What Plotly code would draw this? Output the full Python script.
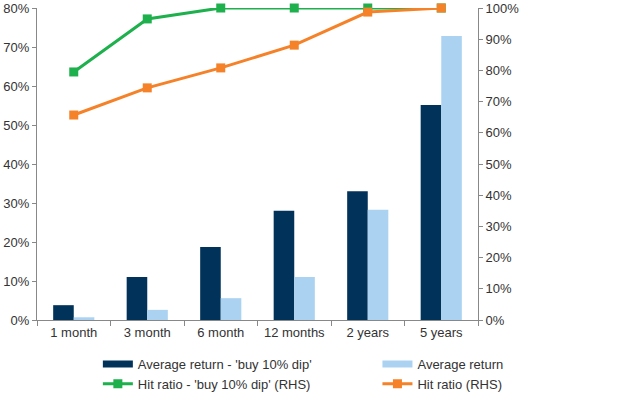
import plotly.graph_objects as go

categories = ["1 month", "3 month", "6 month", "12 months", "2 years", "5 years"]
avg_return_dip = [0.038, 0.11, 0.187, 0.28, 0.33, 0.551]
avg_return = [0.007, 0.026, 0.056, 0.11, 0.283, 0.728]
hit_ratio_dip = [0.795, 0.965, 1.0, 1.0, 1.0, 1.0]
hit_ratio = [0.657, 0.744, 0.808, 0.881, 0.987, 1.0]

left_ticks = [0, 0.1, 0.2, 0.3, 0.4, 0.5, 0.6, 0.7, 0.8]
right_ticks = [0, 0.1, 0.2, 0.3, 0.4, 0.5, 0.6, 0.7, 0.8, 0.9, 1.0]

NAVY = "#01325A"
LIGHT = "#ABD3F1"
GREEN = "#1DB04C"
ORANGE = "#F58228"

fig = go.Figure()
fig.add_trace(go.Bar(x=categories, y=avg_return_dip, name="Average return - 'buy 10% dip'",
                     marker=dict(color=NAVY, line=dict(width=0)), showlegend=False))
fig.add_trace(go.Bar(x=categories, y=avg_return, name="Average return",
                     marker=dict(color=LIGHT, line=dict(width=0)), showlegend=False))
fig.add_trace(go.Scatter(x=categories, y=hit_ratio_dip, name="Hit ratio - 'buy 10% dip' (RHS)",
                         yaxis="y2", mode="lines+markers", cliponaxis=False,
                         line=dict(color=GREEN, width=3), legend="legend",
                         marker=dict(symbol="square", size=9, color=GREEN)))
fig.add_trace(go.Scatter(x=categories, y=hit_ratio, name="Hit ratio (RHS)",
                         yaxis="y2", mode="lines+markers", cliponaxis=False,
                         line=dict(color=ORANGE, width=3), legend="legend2",
                         marker=dict(symbol="square", size=9, color=ORANGE)))
# legend keys for the bar series (wide flat swatches as in the original)
fig.add_trace(go.Scatter(x=[None], y=[None], mode="lines", name="Average return - 'buy 10% dip'",
                         line=dict(color=NAVY, width=7), legend="legend", legendrank=1))
fig.add_trace(go.Scatter(x=[None], y=[None], mode="lines", name="Average return",
                         line=dict(color=LIGHT, width=7), legend="legend2", legendrank=1))

legend_common = dict(orientation="v", yanchor="top", y=-0.093, itemwidth=30,
                     traceorder="normal", font=dict(size=13, color="#333333"),
                     tracegroupgap=0, bgcolor="rgba(0,0,0,0)", xanchor="left")

fig.update_layout(
    width=640, height=396,
    margin=dict(l=37, r=162, t=8, b=76, autoexpand=False),
    paper_bgcolor="white", plot_bgcolor="white",
    font=dict(family="Liberation Sans, Arial, sans-serif", size=13, color="#404040"),
    barmode="group", bargap=0.44, bargroupgap=0,
    showlegend=True,
    legend=dict(x=0.138, **legend_common),
    legend2=dict(x=0.772, **legend_common),
    xaxis=dict(type="category", tickson="boundaries", ticks="outside", ticklen=5,
               tickcolor="#888888", showline=True, linecolor="#888888", linewidth=1,
               showgrid=False, automargin=False, tickfont=dict(size=13, color="#333333")),
    yaxis=dict(range=[0, 0.8], tickvals=left_ticks, tickformat=".0%", showgrid=False,
               zeroline=False, showline=True, linecolor="#888888", ticks="outside",
               automargin=False,
               ticklen=4, tickcolor="#888888", tickfont=dict(size=13, color="#333333")),
    yaxis2=dict(range=[0, 1.0], tickvals=right_ticks, tickformat=".0%", overlaying="y",
                side="right", showgrid=False, zeroline=False, showline=True,
                automargin=False,
                linecolor="#888888", ticks="outside", ticklen=4, tickcolor="#888888",
                tickfont=dict(size=13, color="#333333")),
)

fig.write_html("out.html", config={"displayModeBar": False},
               post_script="document.body.style.margin='0';")
